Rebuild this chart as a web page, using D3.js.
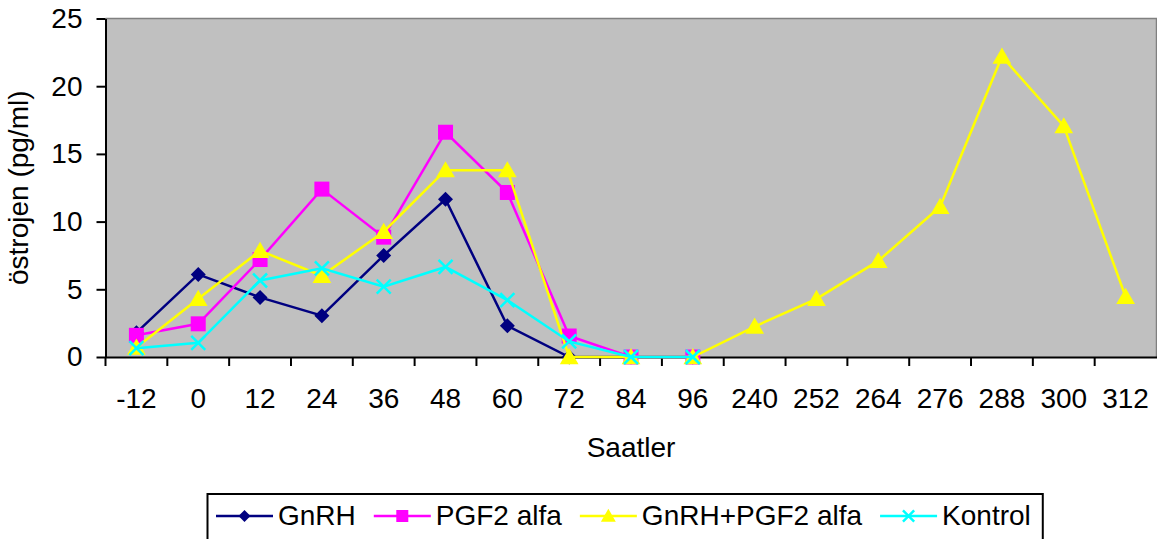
<!DOCTYPE html>
<html>
<head>
<meta charset="utf-8">
<script src="https://cdn.jsdelivr.net/npm/d3@7"></script>
<style>
  body { margin: 0; background: #fff; }
  text { font-family: "Liberation Sans", Arial, sans-serif; }
</style>
</head>
<body>
<div id="chart"></div>
<script>
// data
const hours = ["-12", "0", "12", "24", "36", "48", "60", "72", "84", "96", "240", "252", "264", "276", "288", "300", "312"];
const gnrh = [1.8, 6.1, 4.4, 3.05, 7.5, 11.65, 2.3, 0, 0, 0];
const pgf2 = [1.6, 2.45, 7.2, 12.4, 8.85, 16.6, 12.15, 1.55, 0, 0];
const gnrhPgf2 = [0.7, 4.3, 7.85, 6.0, 9.25, 13.8, 13.8, 0, 0, 0, 2.25, 4.3, 7.1, 11.1, 22.2, 17.05, 4.45];
const kontrol = [0.65, 1.05, 5.65, 6.55, 5.2, 6.65, 4.2, 1.15, 0, 0];
const yTicks = [0, 5, 10, 15, 20, 25];

const series = [
  {name: "GnRH", values: gnrh, color: "#000080", marker: "diamond"},
  {name: "PGF2 alfa", values: pgf2, color: "#FF00FF", marker: "square"},
  {name: "GnRH+PGF2 alfa", values: gnrhPgf2, color: "#FFFF00", marker: "triangle"},
  {name: "Kontrol", values: kontrol, color: "#00FFFF", marker: "cross"}
];

const W = 1157, H = 539;
const plot = {left: 105.5, right: 1156.5, top: 18.5, bottom: 357};

const svg = d3.select("#chart").append("svg")
  .attr("width", W)
  .attr("height", H);

const x = d3.scaleBand()
  .domain(hours)
  .range([plot.left, plot.right])
  .padding(0);

const y = d3.scaleLinear()
  .domain([0, 25])
  .range([plot.bottom, plot.top]);

// plot background
svg.append("rect")
  .attr("x", plot.left)
  .attr("y", plot.top)
  .attr("width", plot.right - plot.left)
  .attr("height", plot.bottom - plot.top)
  .attr("fill", "#C0C0C0")
  .attr("stroke", "none");

svg.append("path")
  .attr("d", `M${plot.left},${plot.top}H${plot.right}V${plot.bottom}`)
  .attr("fill", "none")
  .attr("stroke", "#808080")
  .attr("stroke-width", 1.5);

// y axis
const yAxis = svg.append("g")
  .attr("transform", `translate(${plot.left},0)`)
  .call(d3.axisLeft(y).tickValues(yTicks).tickSize(9).tickPadding(14).tickSizeOuter(0));
yAxis.select(".domain").attr("stroke", "#000").attr("stroke-width", 2);
yAxis.selectAll(".tick line").attr("stroke", "#000").attr("stroke-width", 2);
yAxis.selectAll("text").attr("font-size", 28).attr("fill", "#000")
  .attr("font-family", "Liberation Sans, Arial, sans-serif");

// x axis: labels centred in bands, ticks on band edges
const xAxis = svg.append("g")
  .attr("transform", `translate(0,${plot.bottom})`)
  .call(d3.axisBottom(x).tickSize(0).tickSizeOuter(0));
xAxis.select(".domain").attr("stroke", "#000").attr("stroke-width", 2);
xAxis.selectAll("text")
  .attr("y", 51).attr("dy", null)
  .attr("font-size", 28).attr("fill", "#000")
  .attr("font-family", "Liberation Sans, Arial, sans-serif");

xAxis.selectAll(".edge")
  .data(hours)
  .enter()
  .append("line")
  .attr("class", "edge")
  .attr("x1", d => x(d))
  .attr("x2", d => x(d))
  .attr("y1", 0)
  .attr("y2", 9)
  .attr("stroke", "#000")
  .attr("stroke-width", 2);

// axis titles
svg.append("text")
  .attr("x", (plot.left + plot.right) / 2)
  .attr("y", 457)
  .attr("text-anchor", "middle")
  .attr("font-size", 28)
  .text("Saatler");

svg.append("text")
  .attr("transform", `translate(28,${(plot.top + plot.bottom) / 2}) rotate(-90)`)
  .attr("text-anchor", "middle")
  .attr("font-size", 28)
  .text("östrojen (pg/ml)");

// markers
function drawMarker(g, type, color, cx, cy, s) {
  if (type === "diamond") {
    g.append("path")
      .attr("d", `M${cx},${cy - s}L${cx + s},${cy}L${cx},${cy + s}L${cx - s},${cy}Z`)
      .attr("fill", color);
  } else if (type === "square") {
    g.append("rect")
      .attr("x", cx - s).attr("y", cy - s)
      .attr("width", 2 * s).attr("height", 2 * s)
      .attr("fill", color);
  } else if (type === "triangle") {
    g.append("path")
      .attr("d", `M${cx},${cy - s * 1.05}L${cx + s * 1.1},${cy + s * 0.85}L${cx - s * 1.1},${cy + s * 0.85}Z`)
      .attr("fill", color);
  } else {
    g.append("path")
      .attr("d", `M${cx - s},${cy - s}L${cx + s},${cy + s}M${cx + s},${cy - s}L${cx - s},${cy + s}`)
      .attr("stroke", color)
      .attr("stroke-width", 2.5)
      .attr("fill", "none");
  }
}

const markerSize = {diamond: 7.5, square: 7.5, triangle: 8.5, cross: 7};

const line = d3.line()
  .x((d, i) => x(hours[i]) + x.bandwidth() / 2)
  .y(d => y(d));

series.forEach(s => {
  const g = svg.append("g");
  g.append("path")
    .datum(s.values)
    .attr("d", line)
    .attr("fill", "none")
    .attr("stroke", s.color)
    .attr("stroke-width", 2.5);
  s.values.forEach((v, i) => {
    drawMarker(g, s.marker, s.color, x(hours[i]) + x.bandwidth() / 2, y(v), markerSize[s.marker]);
  });
});

// legend
const legend = svg.append("g");
const legendBox = legend.append("rect")
  .attr("x", 207.5)
  .attr("y", 494)
  .attr("height", 60)
  .attr("fill", "#fff")
  .attr("stroke", "#000")
  .attr("stroke-width", 2);

let lx = 216;
series.forEach(s => {
  legend.append("line")
    .attr("x1", lx).attr("x2", lx + 57)
    .attr("y1", 516).attr("y2", 516)
    .attr("stroke", s.color)
    .attr("stroke-width", 2.5);
  drawMarker(legend, s.marker, s.color, lx + 28.5, 516, markerSize[s.marker] * 0.8);
  const t = legend.append("text")
    .attr("x", lx + 62)
    .attr("y", 525)
    .attr("font-size", 28)
    .text(s.name);
  lx = lx + 62 + t.node().getComputedTextLength() + 18;
});
legendBox.attr("width", lx - 6 - 207.5);
</script>
</body>
</html>
